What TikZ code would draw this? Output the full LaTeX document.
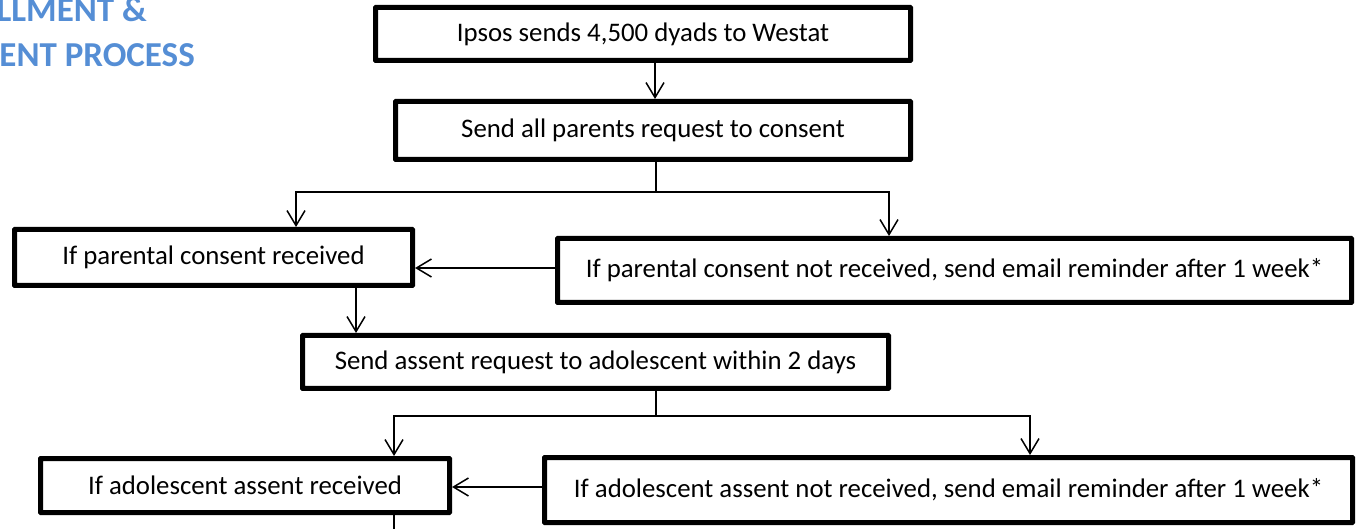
\documentclass[tikz,border=0pt]{standalone}
\usepackage{fontspec}
\setmainfont{Carlito}
\usetikzlibrary{arrows.meta}
\definecolor{titleblue}{RGB}{85,142,213}
\begin{document}
\begin{tikzpicture}[x=1pt,y=-1pt,
  box/.style={draw, line width=5pt, rectangle, inner sep=0pt, rounded corners=0.5pt,
    font=\fontsize{26.8}{32}\selectfont},
  ln/.style={line width=1.5pt},
  arr/.style={line width=1.5pt, -{Straight Barb[length=15pt,width=18pt]}},
  ttl/.style={text=titleblue, font=\fontsize{35}{42}\selectfont\bfseries, anchor=base east, inner sep=0pt}]
\useasboundingbox (0,0) rectangle (1361,529);

% title (clipped at the left edge)
\node[ttl] (t1) at (147,22) {LLMENT \&};
\node[ttl] (t2) at (195,67) {ENT PROCESS};

% boxes
\node[box, minimum width=535pt, minimum height=53pt] (b1) at (643,34) {Ipsos sends 4,500 dyads to Westat};
\node[box, minimum width=515pt, minimum height=58pt] (b2) at (653,130.5) {Send all parents request to consent};
\node[box, minimum width=398pt, minimum height=56pt] (b3) at (213.5,257.5) {If parental consent received};
\node[box, minimum width=794pt, minimum height=64pt] (b4) at (954.5,270.5) {If parental consent not received, send email reminder after 1 week*};
\node[box, minimum width=586pt, minimum height=53pt] (b5) at (595.5,362) {Send assent request to adolescent within 2 days};
\node[box, minimum width=409pt, minimum height=54pt] (b6) at (245,485.5) {If adolescent assent received};
\node[box, minimum width=808pt, minimum height=65pt] (b7) at (948.5,490) {If adolescent assent not received, send email reminder after 1 week*};

% helper coordinates
\coordinate (c1) at (655,0);
\coordinate (j1) at (656,192);
\coordinate (l1) at (296,192);
\coordinate (r1) at (889,192);
\coordinate (h1) at (0,268);
\coordinate (c2) at (356,0);
\coordinate (j2) at (656,416);
\coordinate (l2) at (394,416);
\coordinate (r2) at (1030,416);
\coordinate (h2) at (0,487);
\coordinate (e) at (394,535);

% connectors
\draw[arr] (b1.south -| c1) -- (b2.north -| c1);
\draw[ln] (b2.south -| j1) -- (j1);
\draw[arr] (j1) -- (l1) -- (b3.north -| l1);
\draw[arr] (j1) -- (r1) -- (b4.north -| r1);
\draw[arr] (b4.west |- h1) -- (b3.east |- h1);
\draw[arr] (b3.south -| c2) -- (b5.north -| c2);
\draw[ln] (b5.south -| j2) -- (j2);
\draw[arr] (j2) -- (l2) -- (b6.north -| l2);
\draw[arr] (j2) -- (r2) -- (b7.north -| r2);
\draw[arr] (b7.west |- h2) -- (b6.east |- h2);
\draw[ln] (b6.south -| e) -- (e);
\end{tikzpicture}
\end{document}
